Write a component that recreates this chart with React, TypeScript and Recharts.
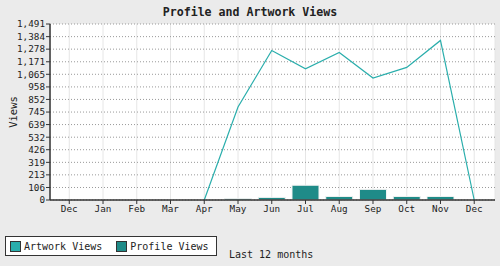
import React from 'react';
import { ComposedChart, Bar, Line, XAxis, YAxis, CartesianGrid } from 'recharts';

const months = ['Dec', 'Jan', 'Feb', 'Mar', 'Apr', 'May', 'Jun', 'Jul', 'Aug', 'Sep', 'Oct', 'Nov', 'Dec'];
const artworkViews: (number | null)[] = [null, null, null, null, 0, 788, 1267, 1112, 1249, 1033, 1123, 1352, 0];
const profileViews: (number | null)[] = [null, null, null, null, null, 11, 22, 125, 30, 90, 30, 30, null];
const yTicks = [0, 106, 213, 319, 426, 532, 639, 745, 852, 958, 1065, 1171, 1278, 1384, 1491];
const seriesNames = ['Artwork Views', 'Profile Views'];

const data = months.map((m, i) => ({ key: `${m}-${i}`, month: m, artwork: artworkViews[i], profile: profileViews[i] }));

const FONT = '"DejaVu Sans Mono", monospace';
const LINE_COLOR = '#2aaeac';
const BAR_COLOR = '#1f8b88';

const LegendBox = () => (
  <div style={{ position: 'absolute', left: 5, top: 236, width: 206, height: 18, border: '1px solid #333', background: '#fff', display: 'flex', alignItems: 'center', padding: '0 0 0 4px', fontFamily: FONT, fontSize: 10, color: '#222', whiteSpace: 'nowrap', boxSizing: 'content-box' }}>
    <span style={{ width: 9, height: 9, background: LINE_COLOR, border: '1px solid #333', display: 'inline-block', marginRight: 3 }} />
    <span style={{ marginRight: 14 }}>{seriesNames[0]}</span>
    <span style={{ width: 9, height: 9, background: BAR_COLOR, border: '1px solid #333', display: 'inline-block', marginRight: 3 }} />
    <span>{seriesNames[1]}</span>
  </div>
);

export default function App() {
  return (
    <div style={{ position: 'absolute', left: 0, top: 0, width: 500, height: 266, background: '#ebebeb', fontFamily: FONT }}>
      <div style={{ position: 'absolute', left: 0, top: 5, width: 500, textAlign: 'center', fontWeight: 'bold', fontSize: 11.6, color: '#222' }}>
        Profile and Artwork Views
      </div>
      <div style={{ position: 'absolute', left: 229, top: 249, fontSize: 10, color: '#222' }}>Last 12 months</div>
      <LegendBox />
      <ComposedChart width={500} height={266} data={data} margin={{ top: 24, right: 5, bottom: 0, left: 0 }} barCategoryGap="10%" style={{ position: 'absolute', left: 0, top: 0 }}>
        <CartesianGrid horizontal={false} vertical={true} stroke="#e6e6e6" fill="#fff" strokeDasharray="" />
        <CartesianGrid horizontal={true} vertical={false} stroke="#999" strokeDasharray="1 2" />
        <XAxis
          dataKey="key"
          tickFormatter={(v: string) => v.split('-')[0]}
          padding={{ left: 2.4, right: 3.9 }}
          tickSize={4}
          tickMargin={1}
          stroke="#333"
          tick={{ fill: '#222', fontSize: 9.3, fontFamily: FONT }}
          axisLine={{ stroke: '#333', strokeWidth: 1.5 }}
          interval={0}
          height={66}
        />
        <XAxis xAxisId="top" dataKey="key" orientation="top" tick={false} tickLine={false} height={0} axisLine={{ stroke: '#aaa', strokeWidth: 2 }} />
        <YAxis
          domain={[0, 1491]}
          ticks={yTicks}
          tickFormatter={(v: number) => v.toLocaleString('en-US')}
          width={50}
          tickSize={4}
          tickMargin={1}
          stroke="#333"
          interval={0}
          tick={{ fill: '#222', fontSize: 9.3, fontFamily: FONT }}
          axisLine={{ stroke: '#333', strokeWidth: 1.5 }}
          label={{ value: 'Views', angle: -90, position: 'insideLeft', offset: 13, style: { fill: '#222', fontSize: 10.5, fontFamily: FONT, textAnchor: 'middle' } }}
        />
        <YAxis yAxisId="right" orientation="right" domain={[0, 1491]} tick={false} tickLine={false} width={0} axisLine={{ stroke: '#aaa', strokeWidth: 2 }} />
        <Bar dataKey="profile" name="Profile Views" fill={BAR_COLOR} stroke="#f2f2f2" strokeWidth={1} isAnimationActive={false} />
        <Line dataKey="artwork" name="Artwork Views" stroke={LINE_COLOR} strokeWidth={1.2} dot={false} connectNulls={false} isAnimationActive={false} />
      </ComposedChart>
    </div>
  );
}
